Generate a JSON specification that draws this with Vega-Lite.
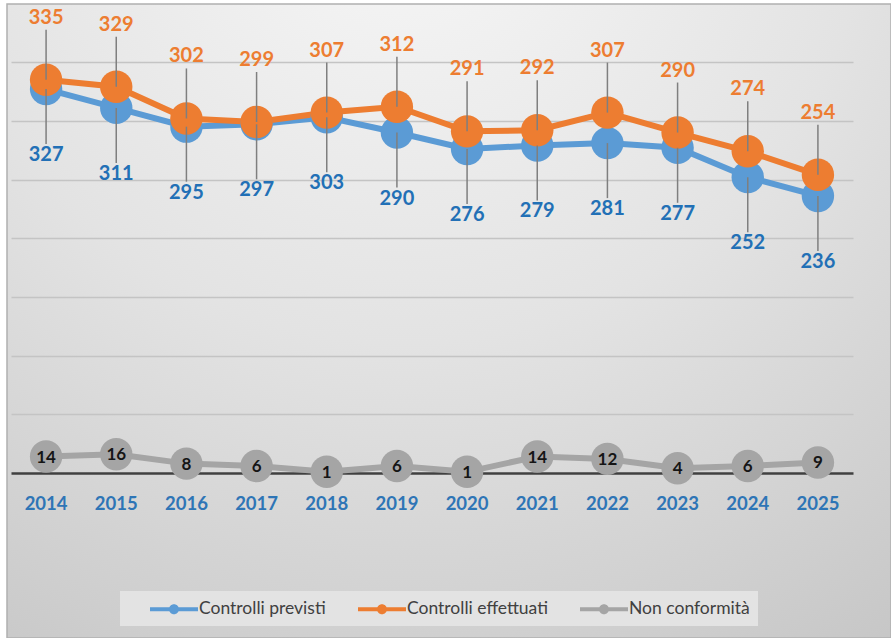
{
  "$schema": "https://vega.github.io/schema/vega-lite/v6.json",
  "width": 884,
  "height": 634,
  "autosize": "none",
  "padding": {"left": 7, "top": 4, "right": 0, "bottom": 0},
  "background": "#ffffff",
  "config": {
    "view": {
      "fill": {"gradient": "radial", "x1": 0.45, "y1": 0.0, "r1": 0, "x2": 0.45, "y2": 0.0, "r2": 1.05,
        "stops": [{"offset": 0, "color": "#f8f8f8"}, {"offset": 0.5, "color": "#e3e3e3"}, {"offset": 1, "color": "#c5c5c5"}]},
      "stroke": "#b0b0b0",
      "strokeWidth": 1.5
    },
    "font": "Lato"
  },
  "data": {"values": [
    {"year": "2014", "series": "Controlli previsti", "value": 327},
    {"year": "2015", "series": "Controlli previsti", "value": 311},
    {"year": "2016", "series": "Controlli previsti", "value": 295},
    {"year": "2017", "series": "Controlli previsti", "value": 297},
    {"year": "2018", "series": "Controlli previsti", "value": 303},
    {"year": "2019", "series": "Controlli previsti", "value": 290},
    {"year": "2020", "series": "Controlli previsti", "value": 276},
    {"year": "2021", "series": "Controlli previsti", "value": 279},
    {"year": "2022", "series": "Controlli previsti", "value": 281},
    {"year": "2023", "series": "Controlli previsti", "value": 277},
    {"year": "2024", "series": "Controlli previsti", "value": 252},
    {"year": "2025", "series": "Controlli previsti", "value": 236},
    {"year": "2014", "series": "Controlli effettuati", "value": 335},
    {"year": "2015", "series": "Controlli effettuati", "value": 329},
    {"year": "2016", "series": "Controlli effettuati", "value": 302},
    {"year": "2017", "series": "Controlli effettuati", "value": 299},
    {"year": "2018", "series": "Controlli effettuati", "value": 307},
    {"year": "2019", "series": "Controlli effettuati", "value": 312},
    {"year": "2020", "series": "Controlli effettuati", "value": 291},
    {"year": "2021", "series": "Controlli effettuati", "value": 292},
    {"year": "2022", "series": "Controlli effettuati", "value": 307},
    {"year": "2023", "series": "Controlli effettuati", "value": 290},
    {"year": "2024", "series": "Controlli effettuati", "value": 274},
    {"year": "2025", "series": "Controlli effettuati", "value": 254},
    {"year": "2014", "series": "Non conformità", "value": 14},
    {"year": "2015", "series": "Non conformità", "value": 16},
    {"year": "2016", "series": "Non conformità", "value": 8},
    {"year": "2017", "series": "Non conformità", "value": 6},
    {"year": "2018", "series": "Non conformità", "value": 1},
    {"year": "2019", "series": "Non conformità", "value": 6},
    {"year": "2020", "series": "Non conformità", "value": 1},
    {"year": "2021", "series": "Non conformità", "value": 14},
    {"year": "2022", "series": "Non conformità", "value": 12},
    {"year": "2023", "series": "Non conformità", "value": 4},
    {"year": "2024", "series": "Non conformità", "value": 6},
    {"year": "2025", "series": "Non conformità", "value": 9}
  ]},
  "encoding": {
    "x": {"field": "year", "type": "ordinal", "scale": {"range": [4, 846]},
      "axis": {"title": null, "domainColor": "#404040", "domainWidth": 2.5, "ticks": false, "tickSize": 0, "labelPadding": 21,
        "labelColor": "#2e75b6", "labelFont": "Lato", "labelFontWeight": "bold", "labelFontSize": 18.5, "offset": -165, "grid": false, "labelAngle": 0}},
    "y": {"field": "value", "type": "quantitative", "scale": {"domain": [0, 400], "range": [469, -0.6], "nice": false},
      "axis": {"title": null, "labels": false, "ticks": false, "domain": false, "grid": true,
        "values": [50, 100, 150, 200, 250, 300, 350], "gridColor": "#c4c4c4", "gridWidth": 1.5}}
  },
  "layer": [
    {
      "mark": {"type": "line", "strokeWidth": 6},
      "encoding": {"color": {"field": "series", "type": "nominal",
        "scale": {"domain": ["Controlli previsti", "Controlli effettuati", "Non conformità"], "range": ["#5b9bd5", "#ed7d31", "#a5a5a5"]},
        "legend": {"orient": "none", "legendX": 113, "legendY": 587, "direction": "horizontal", "title": null,
          "fillColor": "#e3e3e3", "padding": 8, "symbolOffset": 36, "columnPadding": 10, "labelOffset": 15,
          "symbolType": "M-2.4,-0.2H2.4V0.2H-2.4Z M0.5,0A0.5,0.5,0,1,1,-0.5,0A0.5,0.5,0,1,1,0.5,0Z",
          "symbolSize": 400, "symbolStrokeWidth": 0, "labelFont": "Lato", "labelFontSize": 17.5, "labelColor": "#404040",
          "encode": {"symbols": {"update": {"fill": {"scale": "color", "field": "value"}, "opacity": {"value": 1}, "strokeWidth": {"value": 0}}}}}}}
    },
    {
      "mark": {"type": "point", "filled": true, "size": 1050, "opacity": 1, "strokeWidth": 0},
      "encoding": {"color": {"field": "series", "type": "nominal"}}
    },
    {
      "transform": [{"filter": "datum.series === 'Controlli effettuati'"}],
      "mark": {"type": "rule", "y2Offset": -50, "color": "#7f7f7f", "strokeWidth": 1.5},
      "encoding": {"y2": {"field": "value"}}
    },
    {
      "transform": [{"filter": "datum.series === 'Controlli previsti'"}],
      "mark": {"type": "rule", "y2Offset": 55, "color": "#7f7f7f", "strokeWidth": 1.5},
      "encoding": {"y2": {"field": "value"}}
    },
    {
      "transform": [{"filter": "datum.series === 'Controlli effettuati'"}],
      "mark": {"type": "text", "dy": -62, "fontSize": 20, "fontWeight": "bold", "color": "#ed7d31", "baseline": "middle", "font": "Lato"},
      "encoding": {"text": {"field": "value", "type": "quantitative"}}
    },
    {
      "transform": [{"filter": "datum.series === 'Controlli previsti'"}],
      "mark": {"type": "text", "dy": 66, "fontSize": 20, "fontWeight": "bold", "color": "#2270b6", "baseline": "middle", "font": "Lato"},
      "encoding": {"text": {"field": "value", "type": "quantitative"}}
    },
    {
      "transform": [{"filter": "datum.series === 'Non conformità'"}],
      "mark": {"type": "text", "dy": 1, "fontSize": 17, "fontWeight": "bold", "color": "#151515", "baseline": "middle", "font": "Lato"},
      "encoding": {"text": {"field": "value", "type": "quantitative"}}
    }
  ]
}
